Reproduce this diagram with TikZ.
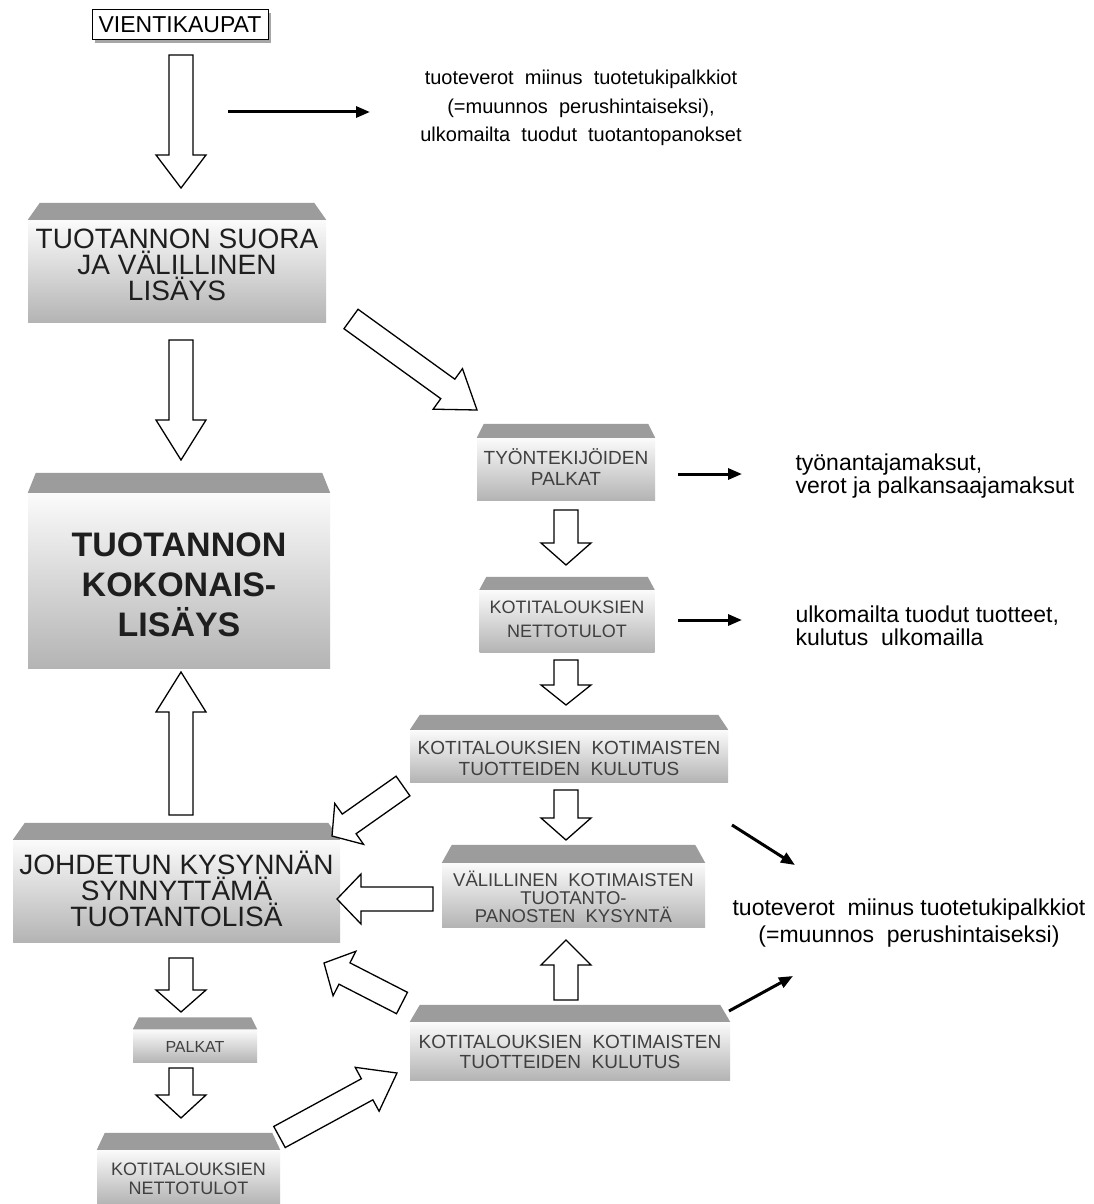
\documentclass[tikz,border=0pt]{standalone}
\usepackage{fontspec}
\setmainfont{Liberation Sans}
\definecolor{roofgray}{HTML}{9C9C9C}
\definecolor{bodytop}{HTML}{FBFBFB}
\definecolor{bodybot}{HTML}{B4B4B4}
\definecolor{ink}{HTML}{1E1E1E}
\usetikzlibrary{arrows.meta,calc,shadows}

% roof on top of a box: node name, inset, height
\newcommand\roof[3]{%
  \fill[roofgray] (#1.north west) -- ([shift={(#2pt,#3pt)}]#1.north west)
    -- ([shift={(-#2pt,#3pt)}]#1.north east) -- (#1.north east) -- cycle;}

\begin{document}
\begin{tikzpicture}[x=1pt, y=-1pt,
  body/.style={rectangle, inner sep=0pt, top color=bodytop, bottom color=bodybot},
  lblbig/.style={font=\fontsize{28}{26}\selectfont, text=ink, align=center},
  lblhuge/.style={font=\fontsize{34}{40}\selectfont\bfseries, text=ink, align=center},
  lblsmall/.style={font=\fontsize{19}{21}\selectfont, text=ink!85, align=center},
  note/.style={font=\fontsize{23}{23}\selectfont, align=center},
  fat/.style={draw, fill=white, line width=1.3pt, line join=miter,
    to path={let \p1=(\tikztostart), \p2=(\tikztotarget),
      \n1={atan2(\y2-\y1,\x2-\x1)}, \n2={veclen(\x2-\x1,\y2-\y1)} in
      ($(\p1)+({\n1+90}:12pt)$) -- ($(\p1)+(\n1:{\n2-#1})+({\n1+90}:12pt)$)
      -- ($(\p1)+(\n1:{\n2-#1})+({\n1+90}:25pt)$) -- (\p2)
      -- ($(\p1)+(\n1:{\n2-#1})+({\n1-90}:25pt)$)
      -- ($(\p1)+(\n1:{\n2-#1})+({\n1-90}:12pt)$)
      -- ($(\p1)+({\n1-90}:12pt)$) -- cycle}},
  fat/.default=30pt,
  thinarrow/.style={-{Triangle[length=14pt,width=11pt]}, line width=3pt},
]
\useasboundingbox[fill=white] (0,0) rectangle (1093,1204);

% left column
\node[draw, line width=1pt, fill=white, minimum width=176pt, minimum height=30pt,
  drop shadow={shadow xshift=3pt, shadow yshift=-3pt, fill=gray!70, opacity=1},
  font=\fontsize{23}{25}\selectfont] (vienti) at (180,25) {VIENTIKAUPAT};

\node[body, minimum width=298pt, minimum height=102pt] (suora) at (177,271) {};
\roof{suora}{12}{17}
\node[lblbig] (suoralbl) at (177,265) {TUOTANNON SUORA\\JA VÄLILLINEN\\LISÄYS};

\node[body, minimum width=302pt, minimum height=175pt] (koko) at (179,580.5) {};
\roof{koko}{8}{20}
\node[lblhuge] (kokolbl) at (179,585) {TUOTANNON\\KOKONAIS-\\LISÄYS};

\node[body, minimum width=327pt, minimum height=102pt] (johd) at (176.5,891) {};
\roof{johd}{12}{17}
\node[lblbig] (johdlbl) at (176.5,889) {JOHDETUN KYSYNNÄN\\SYNNYTTÄMÄ\\TUOTANTOLISÄ};

\node[body, minimum width=124pt, minimum height=33pt] (palk) at (195,1046) {};
\roof{palk}{6}{12}
\node[lblsmall, font=\fontsize{16}{18}\selectfont] (palklbl) at (195,1047) {PALKAT};

\node[body, minimum width=183pt, minimum height=54pt] (netto) at (188.5,1177) {};
\roof{netto}{8}{17}
\node[lblsmall, font=\fontsize{18}{19}\selectfont] (nettolbl) at (188.5,1179) {KOTITALOUKSIEN\\NETTOTULOT};

% right column
\node[body, minimum width=178pt, minimum height=62pt] (tyon) at (566,469) {};
\roof{tyon}{7}{14}
\node[lblsmall] (tyonlbl) at (566,467) {TYÖNTEKIJÖIDEN\\PALKAT};

\node[body, minimum width=175pt, minimum height=62pt] (koti) at (567,621) {};
\roof{koti}{7}{13}
\node[lblsmall, font=\fontsize{18}{24}\selectfont] (kotilbl) at (567,619) {KOTITALOUKSIEN\\NETTOTULOT};

\node[body, minimum width=318pt, minimum height=52pt] (kul) at (569,756) {};
\roof{kul}{10}{15}
\node[lblsmall] (kullbl) at (569,758) {KOTITALOUKSIEN\ \ KOTIMAISTEN\\TUOTTEIDEN\ \ KULUTUS};

\node[body, minimum width=263pt, minimum height=64pt] (val) at (573.5,895) {};
\roof{val}{10}{18}
\node[lblsmall, font=\fontsize{18.5}{18}\selectfont] (vallbl) at (573.5,897) {VÄLILLINEN\ \ KOTIMAISTEN\\TUOTANTO-\\PANOSTEN\ \ KYSYNTÄ};

\node[body, minimum width=320pt, minimum height=58pt] (kul2) at (570,1051) {};
\roof{kul2}{10}{17}
\node[lblsmall, font=\fontsize{19}{20}\selectfont] (kul2lbl) at (570,1052) {KOTITALOUKSIEN\ \ KOTIMAISTEN\\TUOTTEIDEN\ \ KULUTUS};

% notes
\node[note, font=\fontsize{20}{28.5}\selectfont] (n1) at (581,108)
  {tuoteverot\ \ miinus\ \ tuotetukipalkkiot\\(=muunnos\ \ perushintaiseksi),\\ulkomailta\ \ tuodut\ \ tuotantopanokset};
\node[note, align=left, anchor=west] (n2) at (792,476)
  {työnantajamaksut,\\verot ja palkansaajamaksut};
\node[note, align=left, anchor=west] (n3) at (792,626)
  {ulkomailta tuodut tuotteet,\\kulutus\ \ ulkomailla};
\node[note, font=\fontsize{23}{27}\selectfont] (n4) at (909,923)
  {tuoteverot\ \ miinus tuotetukipalkkiot\\(=muunnos\ \ perushintaiseksi)};

% ends of the block arrows
\coordinate (a1s) at (181,55);    \coordinate (a1e) at (181,188);
\coordinate (a2s) at (181,340);   \coordinate (a2e) at (181,460);
\coordinate (a3s) at (181,815);   \coordinate (a3e) at (181,672);
\coordinate (a4s) at (181,958);   \coordinate (a4e) at (181,1012);
\coordinate (a5s) at (181,1068);  \coordinate (a5e) at (181,1118);
\coordinate (d1s) at (351,319);   \coordinate (d1e) at (477,410);
\coordinate (r1s) at (566,510);   \coordinate (r1e) at (566,565);
\coordinate (r2s) at (566,660);   \coordinate (r2e) at (566,705);
\coordinate (r3s) at (566,790);   \coordinate (r3e) at (566,840);
\coordinate (r4s) at (566,1000);  \coordinate (r4e) at (566,940);
\coordinate (l1s) at (403,786);   \coordinate (l1e) at (332,836);
\coordinate (l2s) at (433,899);   \coordinate (l2e) at (337,899);
\coordinate (l3s) at (402,1003);  \coordinate (l3e) at (324,963);
\coordinate (l4s) at (279.5,1137);\coordinate (l4e) at (397,1073);

\draw[fat=33pt] (a1s) to (a1e);
\draw[fat=40pt] (a2s) to (a2e);
\draw[fat=40pt] (a3s) to (a3e);
\draw[fat=22pt] (a4s) to (a4e);
\draw[fat=23pt] (a5s) to (a5e);
\draw[fat=36pt] (d1s) to (d1e);
\draw[fat=22pt] (r1s) to (r1e);
\draw[fat=20pt] (r2s) to (r2e);
\draw[fat=22pt] (r3s) to (r3e);
\draw[fat=25pt] (r4s) to (r4e);
\draw[fat=21pt] (l1s) to (l1e);
\draw[fat=24pt] (l2s) to (l2e);
\draw[fat=23pt] (l3s) to (l3e);
\draw[fat=34pt] (l4s) to (l4e);

% thin arrows
\coordinate (t1s) at (228,112); \coordinate (t1e) at (370,112);
\coordinate (t2s) at (678,474); \coordinate (t2e) at (742,474);
\coordinate (t3s) at (678,620); \coordinate (t3e) at (742,620);
\coordinate (t4s) at (732,825); \coordinate (t4e) at (795,865);
\coordinate (t5s) at (729,1011);\coordinate (t5e) at (793,976);
\draw[thinarrow] (t1s) -- (t1e);
\draw[thinarrow] (t2s) -- (t2e);
\draw[thinarrow] (t3s) -- (t3e);
\draw[thinarrow] (t4s) -- (t4e);
\draw[thinarrow] (t5s) -- (t5e);
\end{tikzpicture}
\end{document}
